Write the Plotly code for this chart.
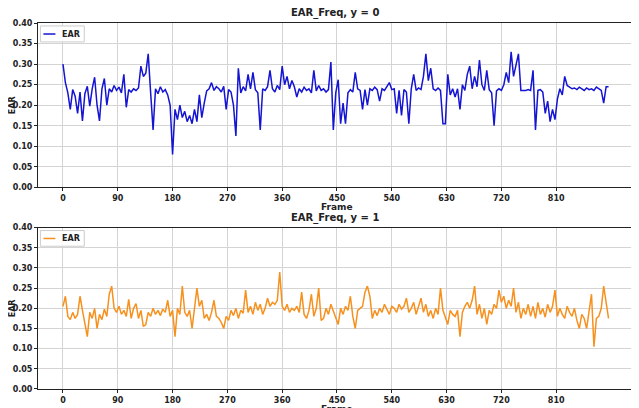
import plotly.graph_objects as go
from plotly.subplots import make_subplots

frames = list(range(0, 900, 4))

ear_y0 = [
    0.300, 0.255, 0.230, 0.190, 0.238, 0.222, 0.180, 0.232, 0.162, 0.228,
    0.246, 0.198, 0.240, 0.268, 0.200, 0.162, 0.240, 0.265, 0.200, 0.240,
    0.232, 0.248, 0.236, 0.244, 0.230, 0.275, 0.195, 0.238, 0.232, 0.240,
    0.236, 0.242, 0.295, 0.270, 0.278, 0.325, 0.230, 0.140, 0.240, 0.228,
    0.245, 0.232, 0.238, 0.225, 0.200, 0.080, 0.190, 0.165, 0.200, 0.170,
    0.185, 0.160, 0.175, 0.155, 0.190, 0.160, 0.225, 0.170, 0.205, 0.235,
    0.240, 0.255, 0.236, 0.245, 0.240, 0.232, 0.246, 0.190, 0.238, 0.232,
    0.200, 0.125, 0.290, 0.230, 0.245, 0.235, 0.275, 0.240, 0.280, 0.238,
    0.230, 0.140, 0.240, 0.236, 0.245, 0.285, 0.240, 0.232, 0.248, 0.238,
    0.295, 0.250, 0.270, 0.240, 0.260, 0.245, 0.220, 0.240, 0.232, 0.244,
    0.236, 0.240, 0.230, 0.285, 0.235, 0.248, 0.236, 0.240, 0.232, 0.238,
    0.305, 0.140, 0.230, 0.262, 0.155, 0.205, 0.155, 0.230, 0.238, 0.232,
    0.280, 0.240, 0.236, 0.190, 0.238, 0.200, 0.240, 0.236, 0.244, 0.238,
    0.210, 0.240, 0.236, 0.245, 0.255, 0.238, 0.240, 0.180, 0.236, 0.175,
    0.238, 0.232, 0.155, 0.240, 0.275, 0.236, 0.242, 0.238, 0.270, 0.325,
    0.260, 0.290, 0.240, 0.236, 0.242, 0.236, 0.155, 0.155, 0.275, 0.225,
    0.240, 0.220, 0.240, 0.190, 0.250, 0.236, 0.275, 0.295, 0.240, 0.270,
    0.245, 0.310, 0.250, 0.236, 0.285, 0.238, 0.230, 0.150, 0.235, 0.240,
    0.236, 0.250, 0.280, 0.255, 0.330, 0.270, 0.300, 0.325, 0.236, 0.236,
    0.236, 0.238, 0.236, 0.285, 0.140, 0.236, 0.238, 0.232, 0.180, 0.210,
    0.160, 0.190, 0.165, 0.215, 0.240, 0.225, 0.270, 0.248, 0.245, 0.240,
    0.242, 0.238, 0.244, 0.240, 0.236, 0.242, 0.238, 0.240, 0.236, 0.244,
    0.240, 0.236, 0.205, 0.245, 0.245,
]

ear_y1 = [
    0.205, 0.230, 0.180, 0.172, 0.190, 0.175, 0.185, 0.230, 0.195, 0.165,
    0.130, 0.190, 0.175, 0.200, 0.150, 0.185, 0.172, 0.198, 0.180, 0.235,
    0.255, 0.200, 0.190, 0.205, 0.185, 0.195, 0.180, 0.222, 0.175, 0.200,
    0.212, 0.175, 0.195, 0.155, 0.160, 0.190, 0.180, 0.200, 0.185, 0.195,
    0.182, 0.198, 0.190, 0.220, 0.180, 0.195, 0.130, 0.200, 0.185, 0.255,
    0.190, 0.180, 0.195, 0.150, 0.200, 0.250, 0.205, 0.220, 0.175, 0.185,
    0.170, 0.190, 0.220, 0.180, 0.175, 0.165, 0.150, 0.180, 0.170, 0.195,
    0.182, 0.200, 0.175, 0.195, 0.188, 0.245, 0.190, 0.205, 0.185, 0.215,
    0.195, 0.210, 0.185, 0.200, 0.225, 0.205, 0.215, 0.210, 0.220, 0.290,
    0.205, 0.195, 0.210, 0.190, 0.200, 0.195, 0.205, 0.190, 0.240, 0.185,
    0.175, 0.195, 0.235, 0.180, 0.200, 0.250, 0.170, 0.175, 0.200, 0.185,
    0.210, 0.195, 0.175, 0.160, 0.200, 0.185, 0.205, 0.195, 0.230, 0.180,
    0.150, 0.195, 0.200, 0.205, 0.240, 0.255, 0.230, 0.175, 0.195, 0.182,
    0.200, 0.190, 0.210, 0.195, 0.185, 0.205, 0.200, 0.190, 0.210, 0.198,
    0.205, 0.225, 0.190, 0.200, 0.215, 0.185, 0.205, 0.225, 0.190, 0.210,
    0.180, 0.195, 0.175, 0.200, 0.185, 0.250, 0.195, 0.175, 0.160, 0.195,
    0.185, 0.180, 0.195, 0.130, 0.190, 0.205, 0.215, 0.200, 0.220, 0.255,
    0.185, 0.210, 0.175, 0.200, 0.160, 0.195, 0.185, 0.210, 0.200, 0.245,
    0.215, 0.230, 0.200, 0.220, 0.205, 0.250, 0.190, 0.215, 0.175, 0.200,
    0.185, 0.210, 0.180, 0.205, 0.175, 0.215, 0.185, 0.200, 0.178, 0.210,
    0.190, 0.205, 0.245, 0.180, 0.200, 0.185, 0.175, 0.205, 0.190, 0.180,
    0.200, 0.170, 0.150, 0.185, 0.175, 0.150, 0.190, 0.235, 0.105, 0.175,
    0.180, 0.200, 0.255, 0.220, 0.175,
]

titles = ["EAR_Freq, y = 0", "EAR_Freq, y = 1"]
series_name = "EAR"
x_label = "Frame"
y_label = "EAR"
x_ticks = [0, 90, 180, 270, 360, 450, 540, 630, 720, 810]
y_ticks = [0.00, 0.05, 0.10, 0.15, 0.20, 0.25, 0.30, 0.35, 0.40]
colors = ["#1414d2", "#f7911e"]

FONT = "DejaVu Sans"
TXT = "#222222"

fig = make_subplots(rows=2, cols=1, vertical_spacing=0.11)

fig.add_trace(go.Scatter(x=frames, y=ear_y0, mode="lines", name=series_name,
                         line=dict(color=colors[0], width=1.5), showlegend=False),
              row=1, col=1)
fig.add_trace(go.Scatter(x=frames, y=ear_y1, mode="lines", name=series_name,
                         line=dict(color=colors[1], width=1.5), showlegend=False),
              row=2, col=1)

tickfont = dict(family=FONT, size=8, color=TXT, weight="bold")
grid_common = dict(showgrid=True, gridcolor="#d4d4d4", gridwidth=1,
                   ticks="outside", ticklen=3, tickcolor=TXT, tickfont=tickfont,
                   zeroline=False, showline=True, linecolor=TXT, linewidth=1,
                   automargin=False)

for r in (1, 2):
    fig.update_xaxes(range=[-41, 946], tickvals=x_ticks, mirror=True,
                     row=r, col=1, **grid_common)
    fig.update_yaxes(range=[0, 0.4], tickvals=y_ticks, tickformat=".2f", mirror=False,
                     row=r, col=1, **grid_common)

fig.layout.yaxis.domain = [0.5507, 1.0]
fig.layout.yaxis2.domain = [0.0, 0.4408]

axes_refs = [("x domain", "y domain"), ("x2 domain", "y2 domain")]
for i, (xr, yr) in enumerate(axes_refs):
    # matplotlib-style legend box, top-left of each panel
    fig.add_shape(type="rect", xref=xr, yref=yr, x0=0.004, x1=0.077, y0=0.885, y1=0.982,
                  line=dict(color="#cccccc", width=1), fillcolor="rgba(255,255,255,0.9)")
    fig.add_shape(type="line", xref=xr, yref=yr, x0=0.009, x1=0.029, y0=0.933, y1=0.933,
                  line=dict(color=colors[i], width=1.5))
    fig.add_annotation(text="<b>" + series_name + "</b>", xref=xr, yref=yr, x=0.036, y=0.933,
                       xanchor="left", yanchor="middle", showarrow=False,
                       font=dict(family=FONT, size=8, color=TXT))
    # axis titles
    fig.add_annotation(text="<b>" + x_label + "</b>", xref=xr, yref=yr, x=0.497, y=0,
                       xanchor="center", yanchor="middle", yshift=-20, showarrow=False,
                       font=dict(family=FONT, size=9, color=TXT))
    fig.add_annotation(text="<b>" + y_label + "</b>", xref="paper", yref=yr, x=0, y=0.5,
                       xanchor="center", yanchor="middle", xshift=-26, textangle=-90,
                       showarrow=False, font=dict(family=FONT, size=8, color=TXT))
    # subplot titles
    fig.add_annotation(text="<b>" + titles[i] + "</b>", xref=xr, yref=yr,
                       x=0.495, y=1.0, xanchor="center", yanchor="bottom", yshift=2,
                       showarrow=False, font=dict(family=FONT, size=10, color=TXT))

# page body has an 8px margin, so the figure is 8px smaller and margins are reduced
fig.update_layout(
    width=631, height=400,
    margin=dict(l=30, r=0, t=15, b=19),
    paper_bgcolor="white", plot_bgcolor="white",
    showlegend=False,
)

fig.write_html("out.html")
